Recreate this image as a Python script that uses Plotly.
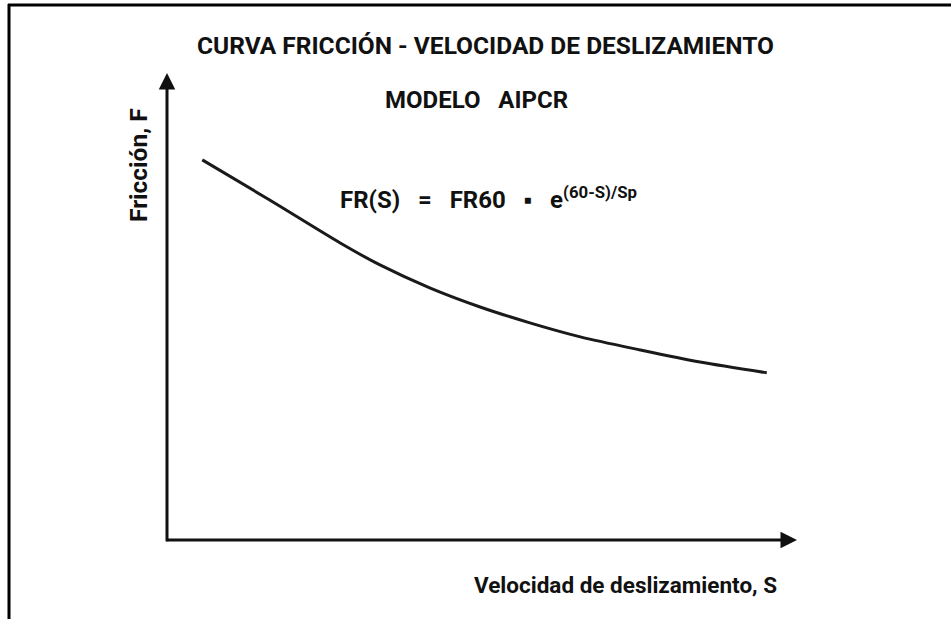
import plotly.graph_objects as go

# Curve (arbitrary units, axis 0..100)
speed_s = [5.6, 16.3, 27.5, 33.8, 41.7, 49.7, 57.6, 65.6, 75.1, 84.6, 95.2]
friction_f = [81.4, 72.8, 63.6, 58.9, 54.0, 49.9, 46.5, 43.5, 40.7, 38.1, 35.8]

title_text = "CURVA FRICCIÓN - VELOCIDAD DE DESLIZAMIENTO"
subtitle_text = "MODELO&nbsp;&nbsp;&nbsp;AIPCR"
formula_text = ("FR(S)&nbsp;&nbsp;&nbsp;=&nbsp;&nbsp;&nbsp;FR60&nbsp;&nbsp;&nbsp;▪"
                "&nbsp;&nbsp;&nbsp;e<sup>(60-S)/Sp</sup>")
x_label = "Velocidad de deslizamiento, S"
y_label = "Fricción, F"

FONT = "Roboto, Liberation Sans, sans-serif"

fig = go.Figure()
fig.add_trace(go.Scatter(
    x=speed_s, y=friction_f, mode="lines",
    line=dict(color="#1a1a1a", width=3, shape="spline", smoothing=0.8),
    hoverinfo="skip", showlegend=False,
))

W, H = 951, 619
L, R, T, B = 167, 154, 73, 79
pw, ph = W - L - R, H - T - B

def px(xp):
    return (xp - L) / pw

def py(yp):
    return (H - B - yp) / ph

ann = []
# axis arrows
ann.append(dict(x=0, y=100, ax=0, ay=-0.6, xref="x", yref="y", axref="x", ayref="y",
                showarrow=True, arrowhead=2, arrowsize=1.1, arrowwidth=3, arrowcolor="#111",
                text=""))
ann.append(dict(x=100, y=0, ax=-0.4, ay=0, xref="x", yref="y", axref="x", ayref="y",
                showarrow=True, arrowhead=2, arrowsize=1.1, arrowwidth=3, arrowcolor="#111",
                text=""))

def txt(t, x, y, size, anchor="center", angle=0):
    return dict(text="<b>" + t + "</b>", x=x, y=y, xref="paper", yref="paper",
                showarrow=False, xanchor=anchor, yanchor="middle", textangle=angle,
                font=dict(family=FONT, size=size, color="#111"))

ann.append(txt(title_text, px(485), py(45), 24.5))
ann.append(txt(subtitle_text, px(476), py(100), 24))
ann.append(txt(formula_text, px(338), py(198), 24, anchor="left"))
ann.append(txt(x_label, px(625), py(585), 22.5))
ann.append(txt(y_label, px(138), py(165), 24.5, angle=-90))

shapes = [
    dict(type="line", xref="paper", yref="paper", x0=px(8), x1=px(951), y0=py(5), y1=py(5),
         line=dict(color="#000", width=3)),
    dict(type="line", xref="paper", yref="paper", x0=px(9), x1=px(9), y0=py(4), y1=py(625),
         line=dict(color="#000", width=3)),
]

fig.update_layout(
    width=W, height=H,
    margin=dict(l=L, r=R, t=T, b=B),
    paper_bgcolor="white", plot_bgcolor="white",
    xaxis=dict(range=[0, 100], visible=False, fixedrange=True),
    yaxis=dict(range=[0, 100], visible=False, fixedrange=True),
    annotations=ann, shapes=shapes,
)

fig.write_html("out.html", config={"displayModeBar": False},
               post_script="document.body.style.margin='0';document.body.style.overflow='hidden';")
